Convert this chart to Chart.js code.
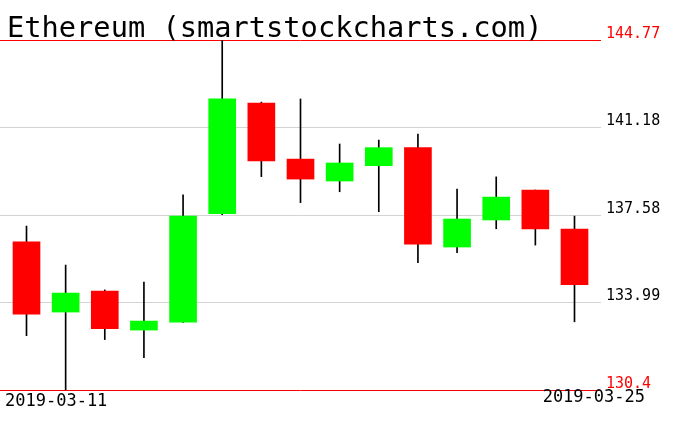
<!DOCTYPE html>
<html>
<head>
<meta charset="utf-8">
<script src="https://cdn.jsdelivr.net/npm/chart.js@4/dist/chart.umd.min.js"></script>
<style>
  html, body { margin: 0; padding: 0; background: #fff; }
  canvas { display: block; }
</style>
</head>
<body>
<canvas id="MyChart" width="676" height="431"></canvas>
<script>
const chartTitle = "Ethereum (smartstockcharts.com)";
// one candle per day
const dates = [
  "2019-03-11", "2019-03-12", "2019-03-13", "2019-03-14", "2019-03-15",
  "2019-03-16", "2019-03-17", "2019-03-18", "2019-03-19", "2019-03-20",
  "2019-03-21", "2019-03-22", "2019-03-23", "2019-03-24", "2019-03-25",
];
const openVals  = [136.48, 133.60, 134.46, 132.86, 133.19, 137.64, 142.18, 139.88, 138.98, 139.61, 140.35, 136.27, 137.38, 138.61, 137.01];
const highVals  = [137.13, 135.53, 134.51, 134.83, 138.41, 144.77, 142.22, 142.35, 140.50, 140.66, 140.91, 138.65, 139.15, 138.61, 137.54];
const lowVals   = [132.63, 130.40, 132.47, 131.73, 133.17, 137.60, 139.16, 138.09, 138.54, 137.72, 135.63, 136.04, 137.02, 136.35, 133.20];
const closeVals = [133.51, 134.38, 132.92, 133.23, 137.54, 142.35, 139.81, 139.06, 139.72, 140.35, 136.39, 137.42, 138.32, 137.01, 134.72];

const yTickValues = [130.4, 133.99, 137.58, 141.18, 144.77];
const yTickLabels = ["130.4", "133.99", "137.58", "141.18", "144.77"];

const UP = "#00ff00";
const DOWN = "#ff0000";

// end ticks (min / max) are red, the rest gray
function isEdge(ctx) {
  return ctx.index === 0 || ctx.index === yTickValues.length - 1;
}

const textPlugin = {
  id: "texts",
  afterDraw(chart) {
    const c = chart.ctx;
    c.save();
    c.fillStyle = "#000";
    c.textBaseline = "alphabetic";
    c.font = '28.7px "DejaVu Sans Mono"';
    c.textAlign = "left";
    c.fillText(chartTitle, 7, 37);
    c.font = '17px "DejaVu Sans Mono"';
    c.fillText(dates[0], 5, 406);
    c.textAlign = "right";
    c.fillText(dates[dates.length - 1], 645, 402);
    c.restore();
  },
};

const data = {
  datasets: [
    {
      // bodies
      label: "body",
      data: dates.map((d, i) => ({ x: i, y: [openVals[i], closeVals[i]] })),
      backgroundColor: closeVals.map((c, i) => (c >= openVals[i] ? UP : DOWN)),
      borderWidth: 0,
      barThickness: 27,
    },
    {
      // wicks
      label: "wick",
      data: dates.map((d, i) => ({ x: i, y: [lowVals[i], highVals[i]] })),
      backgroundColor: "#000",
      borderWidth: 0,
      barThickness: 1,
    },
  ],
};

const config = {
  type: "bar",
  data: data,
  plugins: [textPlugin],
  options: {
    responsive: false,
    animation: false,
    grouped: false,
    layout: { padding: { top: 40, bottom: 41, left: 0, right: 0 } },
    plugins: {
      legend: { display: false },
      tooltip: { enabled: false },
      title: { display: false },
    },
    scales: {
      x: {
        type: "linear",
        display: false,
        offset: false,
        min: -0.677,
        max: 14.677,
      },
      y: {
        position: "right",
        min: 130.4,
        max: 144.77,
        afterBuildTicks: (axis) => {
          axis.ticks = yTickValues.map((v) => ({ value: v }));
        },
        afterFit: (scale) => {
          scale.width = 75;
        },
        border: { display: false },
        grid: {
          drawTicks: false,
          lineWidth: 1,
          color: (ctx) => (isEdge(ctx) ? "#ff0000" : "#d3d3d3"),
        },
        ticks: {
          padding: 5,
          labelOffset: -6,
          font: { family: "DejaVu Sans Mono", size: 15 },
          color: (ctx) => (isEdge(ctx) ? "#ff0000" : "#000"),
          callback: (value, index) => yTickLabels[index],
        },
      },
    },
  },
};

const myChart = new Chart(document.getElementById("MyChart"), config);
</script>
</body>
</html>
